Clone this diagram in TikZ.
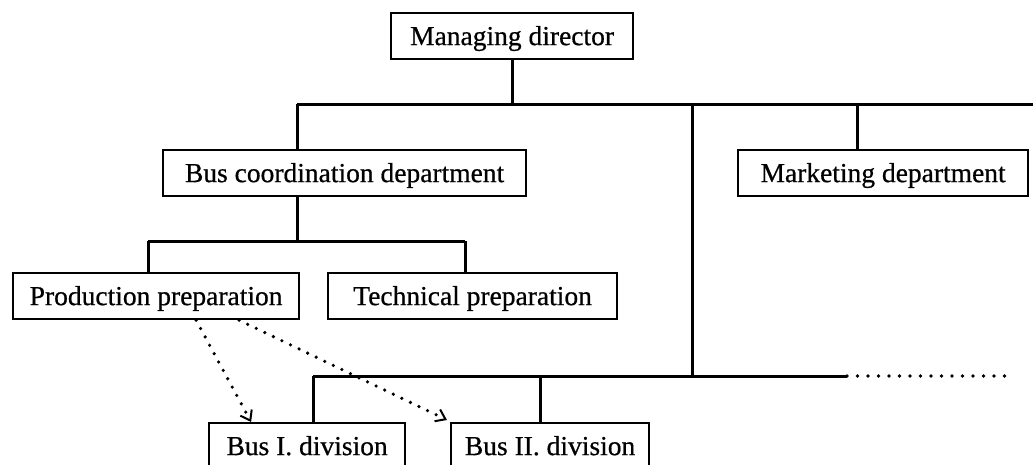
\documentclass[tikz,border=0pt]{standalone}
\usepackage{fontspec}
\setmainfont{Liberation Serif}
\newfontfamily\unitfont{Liberation Serif}[FakeBold=0.6]
\usetikzlibrary{arrows.meta}
\begin{document}
\begin{tikzpicture}[x=1pt,y=-1pt,
  unit/.style={draw, fill=white, line width=2.2pt, anchor=north west,
    minimum height=46pt, inner sep=0pt,
    font=\unitfont\fontsize{27.5}{30}\selectfont, text height=20pt, text depth=2pt},
  link/.style={line width=3pt},
  flow/.style={line width=3.6pt, line cap=round, dash pattern=on 0pt off 9.5pt,
    -{Straight Barb[length=9pt,width=13pt,line width=2pt]}},
  open/.style={line width=3.6pt, line cap=round, dash pattern=on 0pt off 10.5pt}]
\clip (0,0) rectangle (1033,464);
\fill[white] (0,0) rectangle (1033,464);

% junction points of the line system
\coordinate (topL) at (297,104);
\coordinate (topR) at (1033,104);
\coordinate (trunk) at (692,104);
\coordinate (mkj) at (857,104);
\coordinate (subL) at (148,241);
\coordinate (subR) at (465,241);
\coordinate (botL) at (313,376);
\coordinate (botM) at (540,376);
\coordinate (botT) at (692,376);
\coordinate (botS) at (847,376);
\coordinate (botE) at (1012,376);

% lines under the boxes
\draw[link] (topL) -- (topR);
\draw[link] (trunk) -- (botT);
\draw[link] (subL) -- (subR);
\draw[link] (botL) -- (botS);
\draw[open] (botS) -- (botE);

% units
\node[unit, minimum width=242pt] (md) at (390,12) {Managing director};
\node[unit, minimum width=363pt] (bc) at (162,149) {Bus coordination department};
\node[unit, minimum width=290pt] (mk) at (737,149) {Marketing department};
\node[unit, minimum width=286pt] (pp) at (12,272) {Production preparation};
\node[unit, minimum width=289pt] (tp) at (327,272) {Technical preparation};
\node[unit, minimum width=196pt] (b1) at (208,422) {Bus I. division};
\node[unit, minimum width=198pt] (b2) at (450,422) {Bus II. division};

% reporting lines
\draw[link] (md.south) -- (md.south |- topL);
\draw[link] (topL) -- (bc.north -| topL);
\draw[link] (mkj) -- (mk.north -| mkj);
\draw[link] (bc.south -| topL) -- (topL |- subL);
\draw[link] (subL) -- (pp.north -| subL);
\draw[link] (subR) -- (tp.north -| subR);
\draw[link] (botL) -- (b1.north -| botL);
\draw[link] (botM) -- (b2.north -| botM);

% coordination flows
\draw[flow] ([xshift=40pt]pp.south) -- ([xshift=-56pt]b1.north);
\draw[flow] ([xshift=83pt]pp.south) -- ([xshift=-3pt,yshift=2pt]b2.north west);
\end{tikzpicture}
\end{document}
